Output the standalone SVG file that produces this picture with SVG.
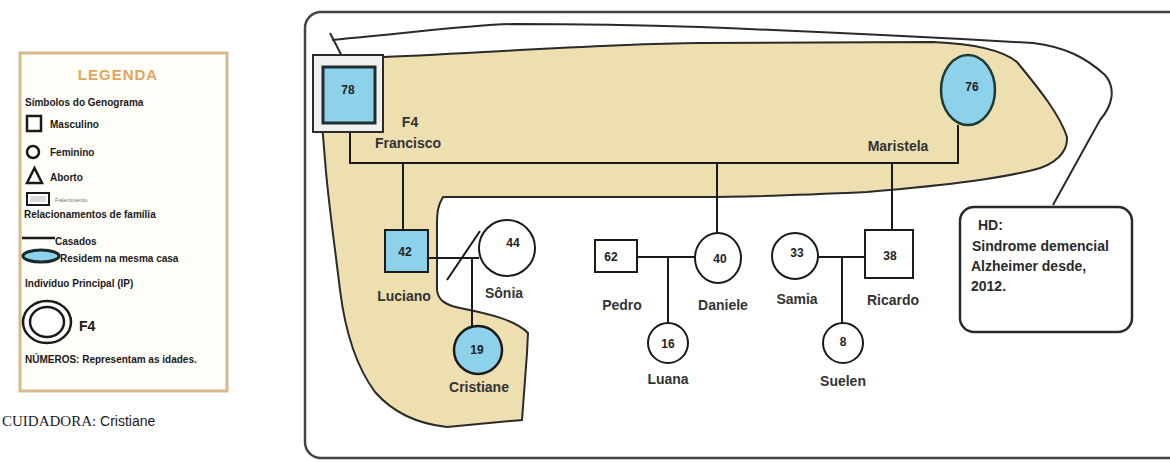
<svg xmlns="http://www.w3.org/2000/svg" width="1170" height="462" viewBox="0 0 1170 462">
<defs>
<style>
.lbl{font-family:"Liberation Sans",Arial,sans-serif;font-size:14px;font-weight:bold;fill:#333;text-anchor:middle}
.num{font-family:"Liberation Sans",Arial,sans-serif;font-size:12px;font-weight:bold;fill:#222;text-anchor:middle}
.node{stroke:#1a1a1a;stroke-width:2;fill:#fff}
.ip{fill:#8dd1ea}
.con{stroke:#1a1a1a;stroke-width:2;fill:none}
.lg{font-family:"Liberation Sans",Arial,sans-serif;font-size:10px;font-weight:bold;fill:#1a1a1a}
.hd{font-family:"Liberation Sans",Arial,sans-serif;font-size:14px;font-weight:bold;fill:#2a2a2a}
</style>
</defs>
<rect width="1170" height="462" fill="#fff"/>

<!-- Legend -->
<g id="legend">
<rect x="20" y="53" width="207" height="338" fill="#fffdf8" stroke="#d8b98c" stroke-width="3"/>
<text x="118" y="80" text-anchor="middle" style="font-family:'Liberation Sans',Arial,sans-serif;font-size:15px;font-weight:bold;fill:#e3a55a;letter-spacing:1px">LEGENDA</text>
<text class="lg" x="25" y="106">Símbolos do Genograma</text>
<rect x="27" y="116" width="14" height="15" fill="#fff" stroke="#1a1a1a" stroke-width="2.5"/>
<text class="lg" x="50" y="128">Masculino</text>
<circle cx="33" cy="152" r="6" fill="#fff" stroke="#1a1a1a" stroke-width="2.5"/>
<text class="lg" x="50" y="156">Feminino</text>
<polygon points="27,183 42,183 34.5,168" fill="#fff" stroke="#1a1a1a" stroke-width="2.5"/>
<text class="lg" x="50" y="181">Aborto</text>
<rect x="27" y="193" width="22" height="12" fill="#fff" stroke="#1a1a1a" stroke-width="2"/>
<rect x="30" y="196" width="16" height="6" fill="#ddd" stroke="none"/>
<text x="55" y="202" style="font-family:'Liberation Sans',Arial,sans-serif;font-size:6px;fill:#777">Falecimento</text>
<text class="lg" x="24" y="218">Relacionamentos de família</text>
<line x1="22" y1="238" x2="55" y2="238" stroke="#1a1a1a" stroke-width="2.5"/>
<text class="lg" x="55" y="245">Casados</text>
<ellipse cx="41" cy="256" rx="18" ry="6" fill="#8dd1ea" stroke="#1a2a2a" stroke-width="3"/>
<text class="lg" x="60" y="262">Residem na mesma casa</text>
<text class="lg" x="25" y="287">Indivíduo Principal (IP)</text>
<ellipse cx="47" cy="322" rx="24" ry="21" fill="#fff" stroke="#1a1a1a" stroke-width="2.5"/>
<ellipse cx="47" cy="322" rx="17" ry="15" fill="#fff" stroke="#1a1a1a" stroke-width="2.5"/>
<text x="79" y="331" style="font-family:'Liberation Sans',Arial,sans-serif;font-size:14px;font-weight:bold;fill:#1a1a1a">F4</text>
<text class="lg" x="25" y="363">NÚMEROS: Representam as idades.</text>
</g>
<g id="caregiver">
<text x="2" y="426" style="font-family:'Liberation Serif','Times New Roman',serif;font-size:15px;fill:#1a1a1a">CUIDADORA:<tspan style="font-family:'Liberation Sans',Arial,sans-serif;font-size:14px"> Cristiane</tspan></text>
</g>

<!-- Frame -->
<rect id="frame" x="305" y="12" width="890" height="446" rx="16" fill="#fff" stroke="#444" stroke-width="2.5"/>

<!-- Household shape -->
<g id="household">
<path d="M316,57 L383,57 C500,52 600,44 700,43 L933,42 C980,44 1005,52 1017,62 C1040,90 1060,115 1067,137 C1068,152 1055,165 1033,170 C1000,178 960,184 867,192 C780,196 740,197 700,197 L443,197 C438,205 437,212 437,225 L437,290 C438,300 445,305 460,308 C490,314 515,320 528,333 L527,353 L522,420 L447,427 C420,424 395,415 375,392 C355,365 345,330 340,290 C334,240 328,200 325,160 C322,120 318,85 316,57 Z" fill="#eedfb0" stroke="#2a2a2a" stroke-width="2"/>
</g>
<g id="outline-contour">
<line x1="330" y1="33" x2="347" y2="66" stroke="#2a2a2a" stroke-width="2"/>
<path d="M332,40 C420,32 470,25 513,24 C560,24 640,25 700,27 C850,33 980,40 1033,43 C1065,47 1085,57 1105,75 C1116,88 1113,105 1100,120 L1053,205" fill="none" stroke="#2a2a2a" stroke-width="2"/>
</g>

<!-- Connectors -->
<g id="connectors" class="con">
<path d="M350,123 L350,163 L958,163 L958,125"/>
<line x1="403" y1="163" x2="403" y2="230"/>
<line x1="717" y1="163" x2="717" y2="234"/>
<line x1="892" y1="163" x2="892" y2="230"/>
<line x1="428" y1="258" x2="479" y2="258"/>
<line x1="447" y1="280" x2="480" y2="231"/>
<line x1="472" y1="258" x2="472" y2="326"/>
<line x1="637" y1="257" x2="695" y2="257"/>
<line x1="668" y1="257" x2="668" y2="323"/>
<line x1="818" y1="257" x2="865" y2="257"/>
<line x1="842" y1="257" x2="842" y2="323"/>
</g>

<!-- Nodes -->
<g id="francisco">
<rect x="313" y="55" width="70" height="77" fill="#f0f0f0" stroke="#2a2a2a" stroke-width="2"/>
<rect x="323" y="67" width="52" height="56" class="ip" stroke="#1e2e2e" stroke-width="3"/>
<text class="num" x="348" y="94">78</text>
<text class="lbl" x="410" y="127">F4</text>
<text class="lbl" x="408" y="148">Francisco</text>
</g>
<g id="maristela">
<ellipse cx="968" cy="90" rx="27" ry="35" class="ip" stroke="#1e3a35" stroke-width="2.5"/>
<text class="num" x="972" y="91">76</text>
<text class="lbl" x="898" y="151">Maristela</text>
</g>
<g id="luciano">
<rect x="385" y="230" width="43" height="42" class="node ip"/>
<text class="num" x="405" y="256">42</text>
<text class="lbl" x="404" y="301">Luciano</text>
</g>
<g id="sonia">
<circle cx="507" cy="248" r="28" class="node"/>
<text class="num" x="513" y="247">44</text>
<text class="lbl" x="504" y="298">Sônia</text>
</g>
<g id="cristiane">
<circle cx="478" cy="350" r="24" class="node ip" style="stroke-width:2.5"/>
<text class="num" x="477" y="354">19</text>
<text class="lbl" x="479" y="392">Cristiane</text>
</g>
<g id="pedro">
<rect x="595" y="240" width="42" height="32" class="node"/>
<text class="num" x="611" y="261">62</text>
<text class="lbl" x="622" y="310">Pedro</text>
</g>
<g id="daniele">
<ellipse cx="718" cy="258" rx="23" ry="25" class="node"/>
<text class="num" x="720" y="263">40</text>
<text class="lbl" x="723" y="310">Daniele</text>
</g>
<g id="luana">
<circle cx="668" cy="343" r="20" class="node"/>
<text class="num" x="668" y="348">16</text>
<text class="lbl" x="668" y="384">Luana</text>
</g>
<g id="samia">
<circle cx="795" cy="256" r="23" class="node"/>
<text class="num" x="797" y="257">33</text>
<text class="lbl" x="797" y="304">Samia</text>
</g>
<g id="ricardo">
<rect x="865" y="230" width="48" height="48" class="node"/>
<text class="num" x="890" y="260">38</text>
<text class="lbl" x="893" y="305">Ricardo</text>
</g>
<g id="suelen">
<circle cx="843" cy="343" r="20" class="node"/>
<text class="num" x="843" y="346">8</text>
<text class="lbl" x="843" y="386">Suelen</text>
</g>
<g id="hd-note">
<rect x="960" y="207" width="172" height="125" rx="14" fill="#fff" stroke="#2a2a2a" stroke-width="2.5"/>
<text class="hd" x="978" y="230">HD:</text>
<text class="hd" x="972" y="251">Sindrome demencial</text>
<text class="hd" x="971" y="271">Alzheimer desde,</text>
<text class="hd" x="971" y="291">2012.</text>
</g>
</svg>
